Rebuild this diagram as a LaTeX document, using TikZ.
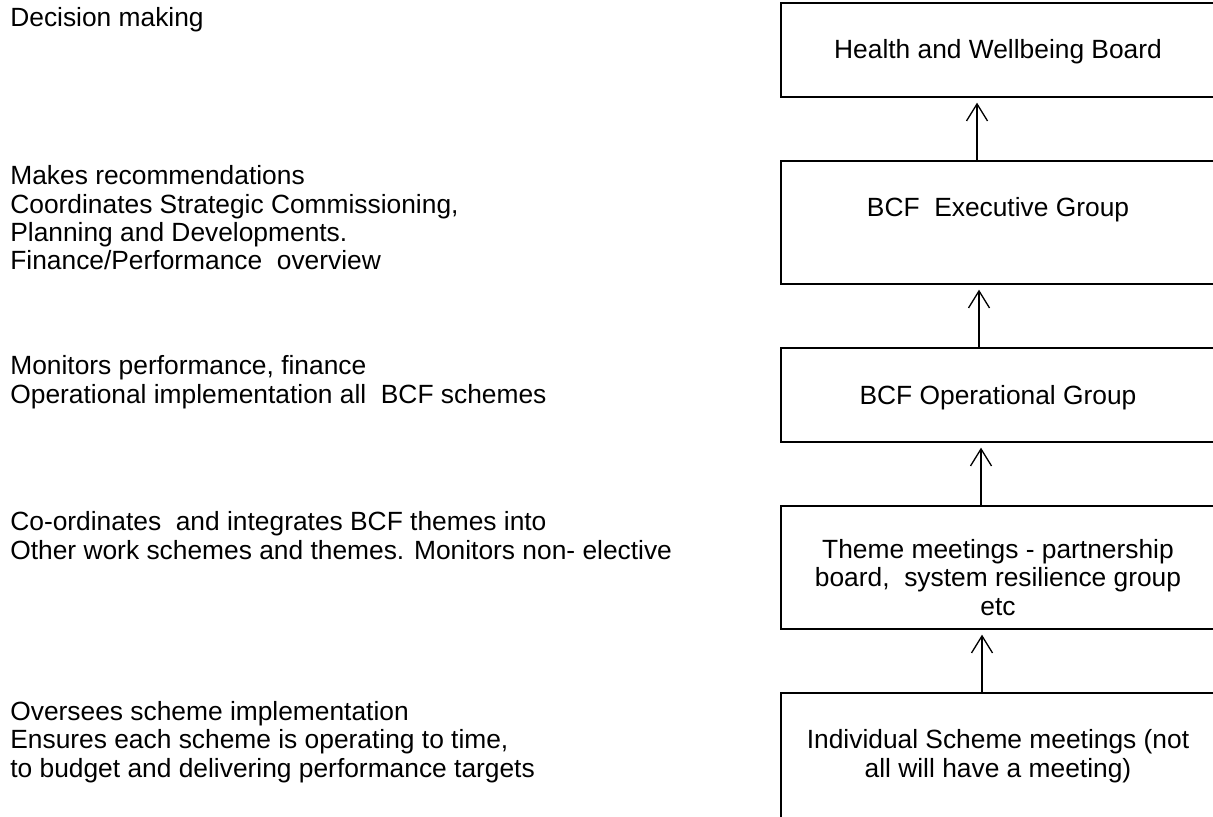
\documentclass[tikz,border=0pt]{standalone}
\usepackage{fontspec}
\setmainfont{Liberation Sans}
\usetikzlibrary{arrows.meta}

\begin{document}
\begin{tikzpicture}[x=0.02cm, y=-0.02cm, >={Straight Barb[length=0.34cm, width=0.42cm]},
    font=\fontsize{15}{16.2}\selectfont,
    level/.style={draw, line width=0.8pt, rectangle, minimum width=8.68cm, inner sep=0pt},
    title/.style={anchor=base, align=center, inner sep=0pt},
    role/.style={anchor=base west, align=left, inner sep=0pt},
    link/.style={->, line width=0.75pt, shorten >=0.1cm}]
    \useasboundingbox (0,0) rectangle (1213,817);
    \clip (0,0) rectangle (1213,817);

    % Health and Wellbeing Board
    \node[level, minimum height=1.88cm] (hwb) at (998,50) {};
    \node[title] (hwbName) at (998,59) {Health and Wellbeing Board};

    % BCF Executive Group
    \node[level, minimum height=2.46cm] (exec) at (998,222.5) {};
    \node[title] (execName) at (998,217) {BCF~ Executive Group};

    % BCF Operational Group
    \node[level, minimum height=1.88cm] (oper) at (998,395) {};
    \node[title] (operName) at (998,404) {BCF Operational Group};

    % Theme meetings (base = last line)
    \node[level, minimum height=2.46cm] (theme) at (998,567.5) {};
    \node[title] (themeName) at (998,615) {Theme meetings - partnership\\board,~ system resilience group\\etc};

    % Individual scheme meetings (runs off the page)
    \node[level, minimum height=2.94cm] (scheme) at (998,766.5) {};
    \node[title] (schemeName) at (998,777) {Individual Scheme meetings (not\\all will have a meeting)};

    % Arrows: each level reports upwards
    \draw[link] ([xshift=-0.42cm]exec.north) -- ([xshift=-0.42cm]hwb.south);
    \draw[link] ([xshift=-0.38cm]oper.north) -- ([xshift=-0.38cm]exec.south);
    \draw[link] ([xshift=-0.34cm]theme.north) -- ([xshift=-0.34cm]oper.south);
    \draw[link] ([xshift=-0.32cm]scheme.north) -- ([xshift=-0.32cm]theme.south);

    % Role of each level (base = last line)
    \node[role] (decide) at (10,27) {Decision making};
    \node[role] (recommend) at (10,270) {Makes recommendations\\Coordinates Strategic Commissioning,\\Planning and Developments.\\Finance/Performance~ overview};
    \node[role] (monitor) at (10,403) {Monitors performance, finance\\Operational implementation all~ BCF schemes};
    \node[role] (integrate) at (10,559) {Co-ordinates~ and integrates BCF themes into\\Other work schemes and themes. Monitors non- elective};
    \node[role] (oversee) at (10,777) {Oversees scheme implementation\\Ensures each scheme is operating to time,\\to budget and delivering performance targets};
\end{tikzpicture}
\end{document}
